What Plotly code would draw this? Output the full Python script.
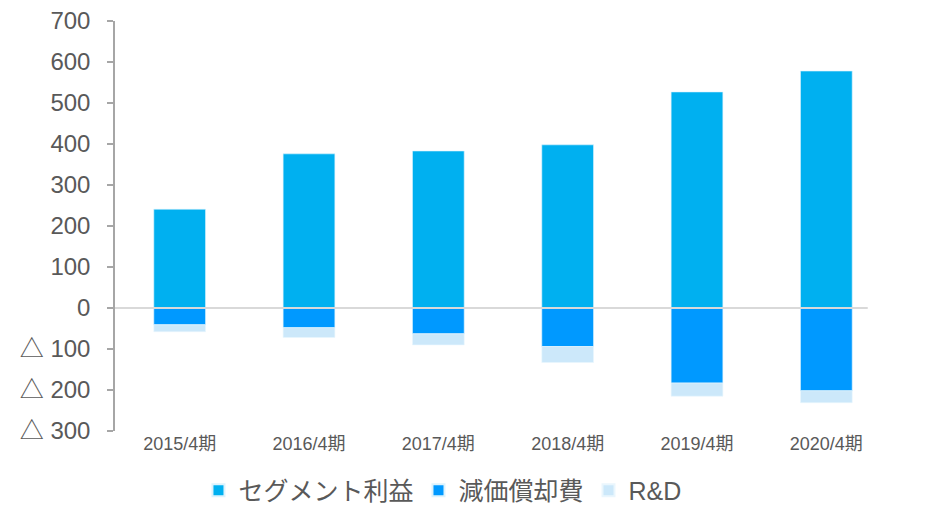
import plotly.graph_objects as go

categories = ["2015/4期", "2016/4期", "2017/4期", "2018/4期", "2019/4期", "2020/4期"]
segment_profit = [241, 376, 383, 398, 527, 578]
depreciation = [-41, -48, -63, -94, -183, -202]
rnd = [-17, -24, -27, -39, -32, -29]

y_tick_vals = [700, 600, 500, 400, 300, 200, 100, 0, -100, -200, -300]
y_tick_text = ["700", "600", "500", "400", "300", "200", "100", "0", "△ 100", "△ 200", "△ 300"]

FONT = "Arial, 'Liberation Sans', 'Noto Sans CJK JP', sans-serif"
TXT = "#595959"

fig = go.Figure()
fig.add_trace(go.Bar(x=categories, y=segment_profit, name="セグメント利益",
                     marker=dict(color="#00B0F0", line=dict(color="#DDF3FD", width=0.6))))
fig.add_trace(go.Bar(x=categories, y=depreciation, name="減価償却費",
                     marker=dict(color="#0099FF", line=dict(color="#DDF3FD", width=0.6))))
fig.add_trace(go.Bar(x=categories, y=rnd, name="R&D",
                     marker=dict(color="#CCE8FA", line=dict(color="#EAF6FD", width=0.6))))

fig.update_layout(
    width=922, height=500,
    barmode="relative",
    bargap=0.6,
    plot_bgcolor="white", paper_bgcolor="white",
    margin=dict(l=107, r=39, t=13, b=77, autoexpand=False),
    font=dict(family=FONT, color=TXT),
    showlegend=True,
    legend=dict(orientation="h", x=0.422, xanchor="center", y=-0.145, yanchor="middle",
                font=dict(size=25, color=TXT), itemsizing="constant",
                traceorder="normal", itemwidth=30),
    xaxis=dict(showline=False, showgrid=False, ticks="", tickfont=dict(size=18, color=TXT),
               ticklabelstandoff=0, fixedrange=True),
    yaxis=dict(range=[-300, 700], tickvals=y_tick_vals, ticktext=y_tick_text,
               showgrid=False, zeroline=False, showline=True, linecolor="#A6A6A6", linewidth=1.5,
               ticks="outside", ticklen=6, tickcolor="#A6A6A6", tickwidth=1.5,
               tickfont=dict(size=24, color=TXT), ticklabelstandoff=12,
               ticklabeloverflow="allow"),
)
fig.add_shape(type="line", xref="paper", yref="y", x0=0, x1=0.97, y0=0, y1=0,
              line=dict(color="#D9D9D9", width=2), layer="above")

fig.write_html("out.html")
